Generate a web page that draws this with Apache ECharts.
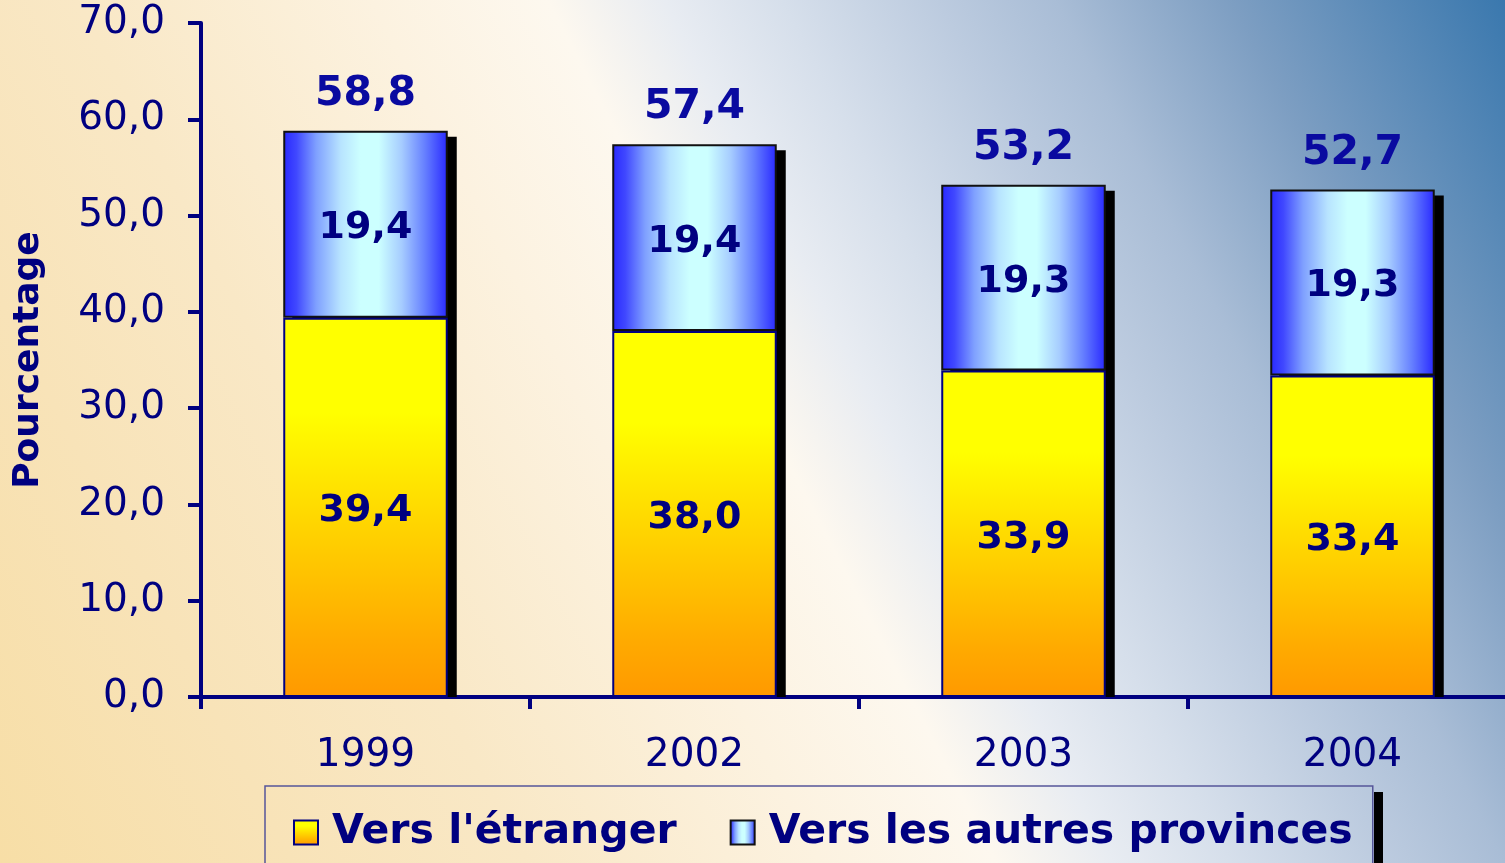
<!DOCTYPE html>
<html>
<head>
<meta charset="utf-8">
<script src="https://cdn.jsdelivr.net/npm/echarts@6/dist/echarts.min.js"></script>
<style>
  html, body { margin: 0; padding: 0; width: 1505px; height: 863px; overflow: hidden; }
  #chart {
    width: 1505px; height: 863px;
    background: linear-gradient(62.5deg,
      #f7dea6 0%, #f8e3b8 15%, #f9e8c6 27%, #fcf2e0 42%, #fdf8ef 51%,
      #e8ecf2 57%, #d6dfeb 63%, #bccbdf 71%, #a9bdd6 77%, #7d9ec2 86%, #3a78ae 100%);
  }
</style>
</head>
<body>
<div id="chart"></div>
<script>
const categories = ['1999', '2002', '2003', '2004'];
const etranger = [39.4, 38.0, 33.9, 33.4];
const provinces = [19.4, 19.4, 19.3, 19.3];
const totals = [58.8, 57.4, 53.2, 52.7];
const seriesNames = ["Vers l'étranger", 'Vers les autres provinces'];
const yAxisName = 'Pourcentage';

const fmt = v => Number(v).toFixed(1).replace('.', ',');
const navy = '#000080';

const yellowGrad = new echarts.graphic.LinearGradient(0, 0, 0, 1, [
  { offset: 0, color: '#ffff00' },
  { offset: 0.25, color: '#ffff00' },
  { offset: 0.55, color: '#ffd400' },
  { offset: 0.85, color: '#ffaa00' },
  { offset: 1, color: '#ff9900' }
]);
const blueGrad = new echarts.graphic.LinearGradient(0, 0, 1, 0, [
  { offset: 0, color: '#2828ff' },
  { offset: 0.08, color: '#4048ff' },
  { offset: 0.2, color: '#7fa0ff' },
  { offset: 0.35, color: '#b8e4ff' },
  { offset: 0.47, color: '#ccffff' },
  { offset: 0.58, color: '#ccffff' },
  { offset: 0.72, color: '#a6ccff' },
  { offset: 0.86, color: '#6680ff' },
  { offset: 1, color: '#2828ff' }
]);

const chart = echarts.init(document.getElementById('chart'), null, { renderer: 'canvas' });
chart.setOption({
  animation: false,
  backgroundColor: 'transparent',
  grid: { left: 201, top: 23, bottom: 166, width: 1316, outerBoundsMode: 'none', containLabel: false },
  legend: {
    data: [
      { name: seriesNames[0], itemStyle: { borderColor: navy, borderWidth: 2 } },
      { name: seriesNames[1], itemStyle: { borderColor: '#111111', borderWidth: 2 } }
    ],
    left: 265, top: 786,
    orient: 'horizontal',
    icon: 'rect',
    itemWidth: 24, itemHeight: 24,
    itemGap: 53,
    padding: [26, 20, 40, 28],
    borderColor: '#555599',
    borderWidth: 1.5,
    selectedMode: false,
    textStyle: {
      fontFamily: 'DejaVu Sans', fontWeight: 'bold', fontSize: 41, color: navy,
      padding: [0, 0, 0, 9]
    }
  },
  graphic: [
    { type: 'rect', left: 1374, top: 792, shape: { width: 9, height: 80 }, style: { fill: '#000' }, z: 1 }
  ],
  xAxis: {
    type: 'category',
    data: categories,
    boundaryGap: true,
    axisLine: { lineStyle: { color: navy, width: 4 } },
    axisTick: { show: true, length: 12, lineStyle: { color: navy, width: 4 } },
    axisLabel: { color: navy, fontFamily: 'DejaVu Sans', fontSize: 39, margin: 39 },
    splitLine: { show: false }
  },
  yAxis: {
    type: 'value',
    min: 0, max: 70, interval: 10,
    name: yAxisName,
    nameLocation: 'middle',
    nameRotate: 90,
    nameGap: 154,
    nameTextStyle: { color: navy, fontFamily: 'DejaVu Sans', fontWeight: 'bold', fontSize: 36 },
    axisLine: { show: true, lineStyle: { color: navy, width: 4 } },
    axisTick: { show: true, length: 13, lineStyle: { color: navy, width: 4 } },
    axisLabel: { color: navy, fontFamily: 'DejaVu Sans', fontSize: 39, margin: 36, formatter: fmt },
    splitLine: { show: false }
  },
  series: [
    {
      name: 'shadow',
      type: 'custom',
      z: 1,
      silent: true,
      data: totals.map((v, i) => [i, v]),
      encode: { x: 0, y: 1 },
      renderItem: function (params, api) {
        const idx = api.value(0);
        const top = api.coord([idx, api.value(1)]);
        const base = api.coord([idx, 0]);
        const w = api.size([1, 0])[0] * 0.5;
        return {
          type: 'rect',
          shape: { x: top[0] - w / 2 + 9, y: top[1] + 6, width: w, height: base[1] - top[1] - 6 },
          style: { fill: '#000' }
        };
      }
    },
    {
      name: seriesNames[0],
      type: 'bar',
      stack: 'total',
      barWidth: '50%',
      z: 3,
      data: etranger,
      emphasis: { disabled: true },
      itemStyle: { color: yellowGrad, borderColor: navy, borderWidth: 2 },
      label: {
        show: true, position: 'inside', offset: [0, 4], formatter: p => fmt(p.value),
        color: navy, fontFamily: 'DejaVu Sans', fontWeight: 'bold', fontSize: 38
      }
    },
    {
      name: seriesNames[1],
      type: 'bar',
      stack: 'total',
      barWidth: '50%',
      z: 2,
      data: provinces,
      emphasis: { disabled: true },
      itemStyle: { color: blueGrad, borderColor: '#111111', borderWidth: 2 },
      label: {
        show: true, position: 'inside', offset: [0, 4], formatter: p => fmt(p.value),
        color: navy, fontFamily: 'DejaVu Sans', fontWeight: 'bold', fontSize: 38
      }
    },
    {
      name: 'Total',
      type: 'scatter',
      data: totals,
      symbolSize: 0,
      silent: true,
      z: 5,
      itemStyle: { opacity: 1 },
      label: {
        show: true, position: 'top', distance: 16, formatter: p => fmt(p.value),
        color: '#0a0aa0', fontFamily: 'DejaVu Sans', fontWeight: 'bold', fontSize: 41
      }
    }
  ]
});
</script>
</body>
</html>
